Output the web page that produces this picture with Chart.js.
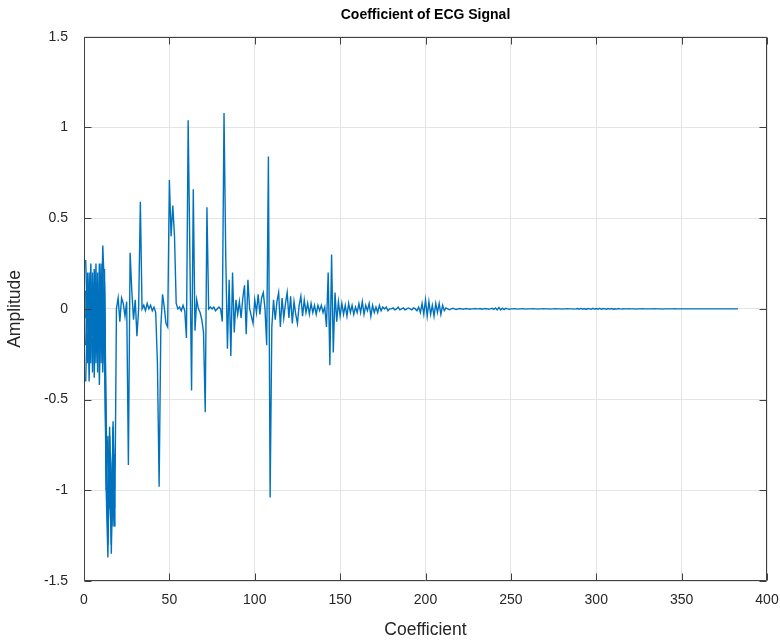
<!DOCTYPE html>
<html>
<head>
<meta charset="utf-8">
<script src="https://cdn.jsdelivr.net/npm/chart.js@4.4.1/dist/chart.umd.min.js"></script>
<style>
html,body{margin:0;padding:0;background:#fff;}
#wrap{width:780px;height:643px;position:relative;}
</style>
</head>
<body>
<div id="wrap"><canvas id="c" width="780" height="643"></canvas></div>
<script>
// ---- data ----
const chartTitle = 'Coefficient of ECG Signal';
const xTitle = 'Coefficient';
const yTitle = 'Amplitude';
const xTicks = [0, 50, 100, 150, 200, 250, 300, 350, 400];
const yTicks = [-1.5, -1, -0.5, 0, 0.5, 1, 1.5];

// main coefficient series, coefficient index 1..383
const coefficients = [
  0.27, -0.1, 0.2, -0.3, 0.1, -0.22, 0.25, -0.35, 0.15, -0.12,
  0.35, 0.1, -1.0, -1.37, -0.7, -1.35, -0.65, -1.2, 0.0, 0.06,
  -0.07, 0.06, 0.03, -0.04, 0.04, -0.86, 0.31, 0.1, -0.06, 0.05,
  -0.15, 0.0, 0.59, 0.0, 0.02, -0.01, 0.03, 0.0, 0.02, -0.01,
  0.01, -0.02, -0.3, -0.98, -0.1, 0.08, 0.01, -0.08, -0.1, 0.71,
  0.4, 0.57, 0.4, 0.03, 0.0, 0.01, -0.01, 0.02, -0.01, -0.16,
  1.04, 0.3, -0.45, 0.66, -0.12, 0.05, 0.0, -0.02, -0.06, -0.13,
  -0.57, 0.56, 0.0, 0.01, 0.0, 0.01, -0.01, 0.0, 0.01, 0.0,
  -0.07, 1.08, 0.3, -0.22, 0.16, -0.26, 0.2, -0.13, 0.05, -0.03,
  0.04, -0.05, 0.06, 0.13, -0.14, 0.16, 0.0, -0.04, -0.08, 0.05,
  -0.02, 0.08, -0.03, 0.06, 0.09, 0.0, -0.2, 0.84, -1.04, -0.1,
  0.05, -0.06, 0.04, 0.09, -0.1, 0.06, -0.05, 0.03, 0.09, -0.05,
  0.07, -0.08, 0.04, -0.03, -0.08, 0.02, 0.07, -0.04, 0.05, -0.02,
  0.03, -0.03, 0.03, -0.02, 0.02, -0.03, 0.02, -0.01, 0.02, -0.02,
  0.01, -0.1, 0.2, -0.31, 0.3, -0.24, 0.09, -0.07, 0.04, -0.04,
  0.03, -0.03, 0.02, -0.04, 0.03, -0.02, 0.02, -0.03, 0.01, -0.02,
  0.03, -0.02, 0.04, -0.03, 0.02, -0.01, 0.03, -0.04, 0.02, -0.02,
  0.01, -0.02, 0.02, -0.01, 0.01, 0.0, 0.01, -0.01, 0.0, 0.0,
  0.005, -0.005, 0.0, 0.01, -0.005, 0.0, 0.005, -0.005, 0.0, 0.005,
  0.0, -0.005, 0.005, 0.0, -0.01, 0.01, -0.02, 0.03, -0.03, 0.05,
  -0.04, 0.04, -0.03, 0.02, -0.04, 0.03, -0.02, 0.03, -0.03, 0.02,
  -0.01, 0.005, 0.0, -0.005, 0.0, 0.003, 0.0, -0.003, 0.0, 0.002,
  0.0, -0.002, 0.0, 0.002, 0.0, -0.002, 0.0, 0.0, 0.002, 0.0,
  0.0, 0.002, -0.002, 0.0, 0.002, 0.0, -0.002, 0.0, 0.003, -0.003,
  0.005, -0.005, 0.008, -0.006, 0.004, -0.004, 0.003, 0.0, -0.002, 0.0,
  0.0, 0.001, 0.0, -0.001, 0.0, 0.0, 0.001, 0.0, -0.001, 0.0,
  0.0, 0.0, 0.001, 0.0, 0.0, -0.001, 0.0, 0.0, 0.001, 0.0,
  0.0, 0.0, -0.001, 0.0, 0.0, 0.001, 0.0, 0.0, 0.0, -0.001,
  0.0, 0.0, 0.001, 0.0, 0.0, 0.0, -0.001, 0.0, 0.002, -0.002,
  0.003, -0.002, 0.002, -0.003, 0.002, 0.0, -0.002, 0.003, -0.002, 0.002,
  -0.002, 0.003, -0.002, 0.002, 0.0, -0.002, 0.002, -0.001, 0.002, -0.002,
  0.001, -0.001, 0.002, 0.0, -0.001, 0.001, 0.0, 0.0, 0.001, 0.0,
  0.0, 0.0, -0.001, 0.0, 0.0, 0.0, 0.001, 0.0, 0.0, 0.0,
  0.0, 0.0, 0.0, 0.001, 0.0, 0.0, 0.0, 0.0, -0.001, 0.0,
  0.0, 0.0, 0.0, 0.0, 0.0, 0.001, 0.0, 0.0, 0.0, 0.0,
  0.0, 0.0, 0.0, 0.0, 0.0, 0.0, 0.0, 0.0, 0.0, 0.0,
  0.0, 0.0, 0.0, 0.0, 0.0, 0.0, 0.0, 0.0, 0.0, 0.0,
  0.0, 0.0, 0.0, 0.0, 0.0, 0.0, 0.0, 0.0, 0.0, 0.0,
  0.0, 0.0, 0.0
];

// overlapping traces of the first coefficients (index 1..18)
const overlayA = [-0.05, 0.2, -0.25, 0.15, -0.15, 0.22, -0.3, 0.05, -0.2, 0.18, -0.1, 0.15, -0.75, -1.3, -0.8, -1.2, -0.68, -1.1];
const overlayB = [-0.4, 0.0, -0.15, 0.25, -0.35, 0.0, -0.1, 0.2, -0.42, 0.05, -0.3, 0.22, -0.65, -1.25, -0.9, -1.3, -0.62, -1.0];
const overlayC = [0.1, -0.3, 0.05, -0.1, 0.2, -0.38, 0.1, -0.25, 0.25, -0.3, 0.2, -0.2, -1.0, -0.7, -1.1, -0.9, -1.2, -0.8];
const overlayD = [-0.2, 0.15, -0.4, 0.05, -0.05, 0.15, -0.2, 0.0, -0.05, 0.25, -0.35, 0.0, -0.9, -1.15, -0.65, -1.05, -0.75, -1.2];

// ---- chart ----
const LINE = '#0072BD';
const FONT = "'Liberation Sans', Arial, Helvetica, sans-serif";
const toPts = arr => arr.map((v, i) => ({x: i + 1, y: v}));
const mkSet = arr => ({
  data: toPts(arr), borderColor: LINE, backgroundColor: LINE,
  borderWidth: 1.4, pointRadius: 0, tension: 0, fill: false
});

const boxPlugin = {
  id: 'matlabBox',
  afterDatasetsDraw(chart) {
    const {ctx, chartArea: a, scales: {x, y}} = chart;
    const L = Math.round(a.left) + 0.5, R = Math.round(a.right) - 0.5;
    const T = Math.round(a.top) + 0.5, B = Math.round(a.bottom) - 0.5;
    ctx.save();
    ctx.strokeStyle = '#404040';
    ctx.lineWidth = 1;
    ctx.beginPath();
    ctx.rect(L, T, R - L, B - T);
    const tl = 7;
    xTicks.forEach(v => {
      const p = Math.round(x.getPixelForValue(v)) + 0.5;
      ctx.moveTo(p, B); ctx.lineTo(p, B - tl);
      ctx.moveTo(p, T); ctx.lineTo(p, T + tl);
    });
    yTicks.forEach(v => {
      const p = Math.round(y.getPixelForValue(v)) + 0.5;
      ctx.moveTo(L, p); ctx.lineTo(L + tl, p);
      ctx.moveTo(R, p); ctx.lineTo(R - tl, p);
    });
    ctx.stroke();
    ctx.restore();
  }
};

new Chart(document.getElementById('c'), {
  type: 'line',
  data: {
    datasets: [mkSet(coefficients), mkSet(overlayA), mkSet(overlayB), mkSet(overlayC), mkSet(overlayD)]
  },
  options: {
    responsive: false,
    animation: false,
    devicePixelRatio: 1,
    layout: {padding: {left: 0, right: 13, top: 0, bottom: 0}},
    plugins: {
      legend: {display: false},
      tooltip: {enabled: false},
      title: {
        display: true, text: chartTitle, color: '#000', fullSize: false,
        font: {family: FONT, size: 14, weight: 'bold'},
        padding: {top: 7, bottom: 13}
      }
    },
    scales: {
      x: {
        type: 'linear', min: 0, max: 400,
        afterBuildTicks: s => { s.ticks = xTicks.map(v => ({value: v})); },
        afterFit: s => { s.height = 62; s.paddingLeft = 0; s.paddingRight = 0; },
        grid: {color: '#e4e4e4', drawTicks: false, lineWidth: 1},
        border: {display: false},
        ticks: {color: '#262626', font: {family: FONT, size: 14}, padding: 11, maxRotation: 0,
                callback: v => String(v)},
        title: {display: true, text: xTitle, color: '#262626',
                font: {family: FONT, size: 17.5}, padding: {top: 0, bottom: 2}}
      },
      y: {
        type: 'linear', min: -1.5, max: 1.5,
        afterBuildTicks: s => { s.ticks = yTicks.map(v => ({value: v})); },
        afterFit: s => { s.width = 84; s.paddingTop = 0; s.paddingBottom = 0; },
        grid: {color: '#e4e4e4', drawTicks: false, lineWidth: 1},
        border: {display: false},
        ticks: {color: '#262626', font: {family: FONT, size: 14}, padding: 16,
                callback: v => String(v)},
        title: {display: true, text: yTitle, color: '#262626',
                font: {family: FONT, size: 17.5}, padding: {top: 5, bottom: 0}}
      }
    }
  },
  plugins: [boxPlugin]
});
</script>
</body>
</html>
